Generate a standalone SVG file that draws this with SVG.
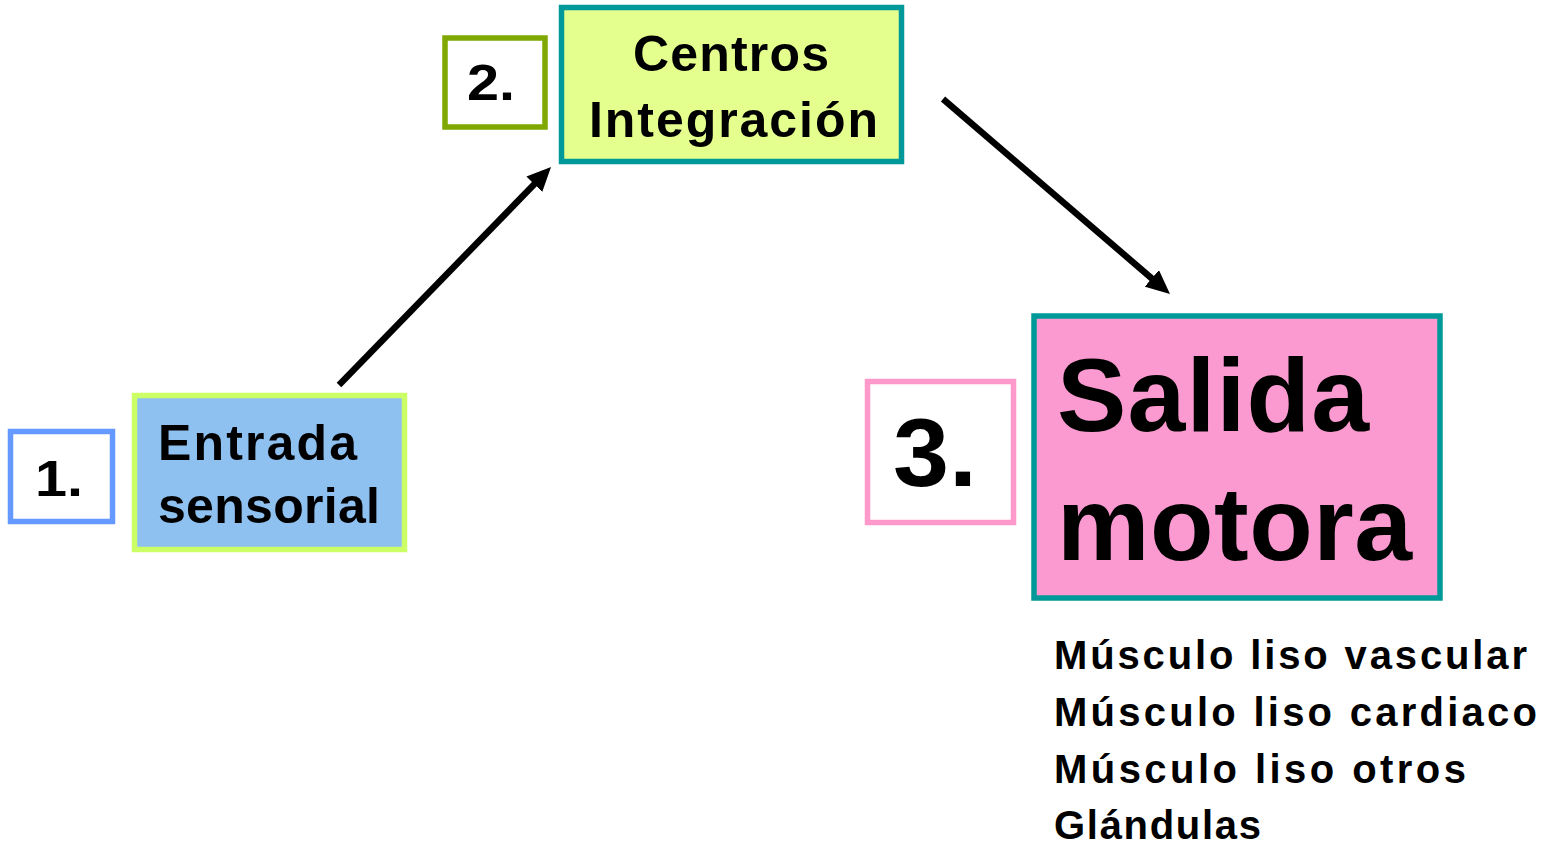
<svg xmlns="http://www.w3.org/2000/svg" width="1561" height="844" viewBox="0 0 1561 844">
<defs>
<style>
text{font-family:"Liberation Sans",Arial,sans-serif;font-weight:bold;fill:#000;}
.box{stroke-width:5.5;}
.conn{stroke:#000;stroke-width:6.5;fill:none;}
</style>
<marker id="ah" markerUnits="userSpaceOnUse" markerWidth="24" markerHeight="22" refX="2" refY="11" orient="auto" viewBox="0 0 24 22">
<path d="M0,0 L24,11 L0,22 z" fill="#000"/>
</marker>
</defs>
<rect width="1561" height="844" fill="#fff"/>
<g id="n1">
<rect class="box" x="10.5" y="431.5" width="102" height="90" fill="#fff" stroke="#6699ff"/>
<text x="35" y="496" font-size="50" textLength="48" lengthAdjust="spacingAndGlyphs">1.</text>
</g>
<g id="entrada">
<rect class="box" x="134.5" y="395.5" width="270" height="154" fill="#8fc1f0" stroke="#ccff66"/>
<text x="158" y="460" font-size="50" textLength="199" lengthAdjust="spacing">Entrada</text>
<text x="158" y="523" font-size="50" textLength="222" lengthAdjust="spacing">sensorial</text>
</g>
<g id="n2">
<rect class="box" x="445" y="38" width="100" height="89" fill="#fff" stroke="#7fa800"/>
<text x="467" y="100" font-size="50" textLength="48" lengthAdjust="spacingAndGlyphs">2.</text>
</g>
<g id="centros">
<rect class="box" x="561.5" y="7.5" width="340" height="154" fill="#e4ff8e" stroke="#009999"/>
<text x="633" y="71" font-size="50" textLength="196" lengthAdjust="spacing">Centros</text>
<text x="589" y="137" font-size="50" textLength="289" lengthAdjust="spacing">Integración</text>
</g>
<g id="n3">
<rect class="box" x="867.5" y="381.5" width="146" height="141" fill="#fff" stroke="#ff99cc"/>
<text x="893" y="486" font-size="96" textLength="84" lengthAdjust="spacingAndGlyphs">3.</text>
</g>
<g id="salida">
<rect class="box" x="1034" y="316" width="406" height="282" fill="#fa9ad0" stroke="#009999"/>
<text x="1057" y="431" font-size="104" textLength="312" lengthAdjust="spacing">Salida</text>
<text x="1057" y="560" font-size="104" textLength="355" lengthAdjust="spacing">motora</text>
</g>
<g id="list">
<text x="1054" y="669" font-size="40" textLength="473" lengthAdjust="spacing">Músculo liso vascular</text>
<text x="1054" y="726" font-size="40" textLength="483" lengthAdjust="spacing">Músculo liso cardiaco</text>
<text x="1054" y="783" font-size="40" textLength="412" lengthAdjust="spacing">Músculo liso otros</text>
<text x="1054" y="839" font-size="40" textLength="207" lengthAdjust="spacing">Glándulas</text>
</g>
<g id="connectors">
<line class="conn" x1="339" y1="385" x2="535.7" y2="182.8" marker-end="url(#ah)"/>
<line class="conn" x1="943" y1="99" x2="1153.3" y2="279.7" marker-end="url(#ah)"/>
</g>
</svg>
